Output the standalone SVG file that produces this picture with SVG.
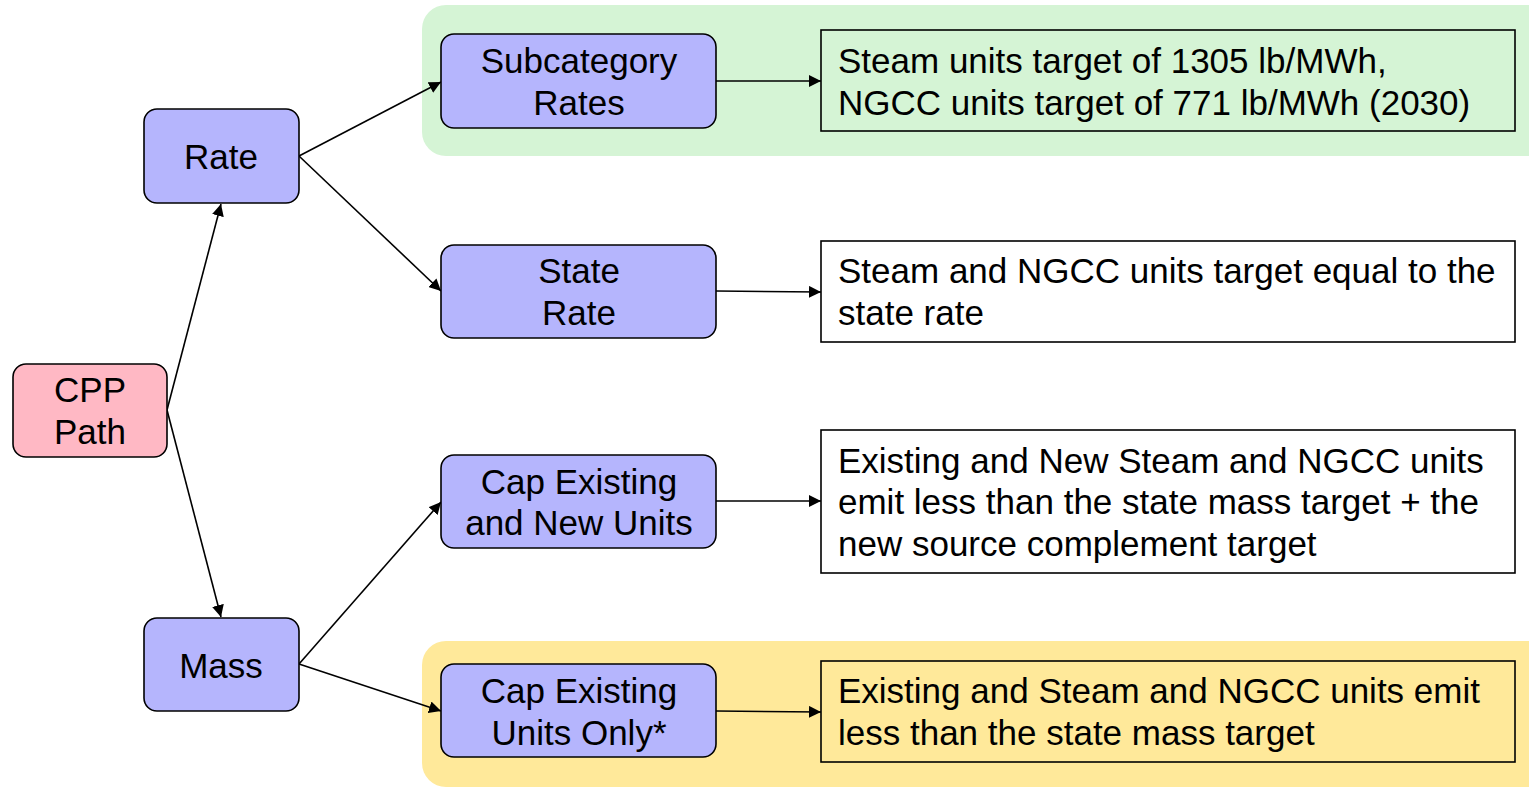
<svg xmlns="http://www.w3.org/2000/svg" width="1529" height="788" viewBox="0 0 1529 788">
<style>
text{font-family:"Liberation Sans",Arial,sans-serif;font-size:35px;fill:#000}
.n{fill:#b5b5fd;stroke:#000;stroke-width:1.6}
.p{fill:#ffb8c4;stroke:#000;stroke-width:1.6}
.b{stroke:#000;stroke-width:1.6}
.c text{text-anchor:middle}
.e line{stroke:#000;stroke-width:1.6;marker-end:url(#ah)}
</style>
<defs>
<marker id="ah" viewBox="0 0 10 10" refX="10" refY="5" markerWidth="12" markerHeight="12" markerUnits="userSpaceOnUse" orient="auto">
<path d="M0,0 L10,5 L0,10 z" fill="#000"/>
</marker>
</defs>
<rect x="422" y="5" width="1131" height="151" rx="24" fill="#d5f4d5"/>
<rect x="422" y="641" width="1131" height="146" rx="24" fill="#ffe99a"/>
<g class="e">
<line x1="167" y1="410" x2="221" y2="204"/>
<line x1="167" y1="410" x2="221" y2="617"/>
<line x1="299" y1="156" x2="441" y2="82"/>
<line x1="299" y1="156" x2="441" y2="291"/>
<line x1="299" y1="664" x2="441" y2="502"/>
<line x1="299" y1="664" x2="441" y2="711"/>
<line x1="716" y1="81" x2="821" y2="81"/>
<line x1="716" y1="291" x2="821" y2="292"/>
<line x1="716" y1="501" x2="821" y2="501"/>
<line x1="716" y1="711" x2="821" y2="712"/>
</g>
<g id="cpp" class="c"><rect class="p" x="13" y="364" width="154" height="93" rx="13"/><text x="90" y="402">CPP</text><text x="90" y="444">Path</text></g>
<g id="rate" class="c"><rect class="n" x="144" y="109" width="155" height="94" rx="13"/><text x="221" y="169">Rate</text></g>
<g id="mass" class="c"><rect class="n" x="144" y="618" width="155" height="93" rx="13"/><text x="221" y="678">Mass</text></g>
<g id="subcat" class="c"><rect class="n" x="441" y="34" width="275" height="94" rx="13"/><text x="579" y="73">Subcategory</text><text x="579" y="115">Rates</text></g>
<g id="staterate" class="c"><rect class="n" x="441" y="245" width="275" height="93" rx="13"/><text x="579" y="283">State</text><text x="579" y="325">Rate</text></g>
<g id="capnew" class="c"><rect class="n" x="441" y="455" width="275" height="93" rx="13"/><text x="579" y="494">Cap Existing</text><text x="579" y="535">and New Units</text></g>
<g id="caponly" class="c"><rect class="n" x="441" y="664" width="275" height="93" rx="13"/><text x="579" y="703">Cap Existing</text><text x="579" y="745">Units Only*</text></g>
<g id="t1"><rect class="b" x="821" y="30" width="694" height="101" fill="none"/><text x="838" y="73">Steam units target of 1305 lb/MWh,</text><text x="838" y="115">NGCC units target of 771 lb/MWh (2030)</text></g>
<g id="t2"><rect class="b" x="821" y="241" width="694" height="101" fill="#fff"/><text x="838" y="283">Steam and NGCC units target equal to the</text><text x="838" y="325">state rate</text></g>
<g id="t3"><rect class="b" x="821" y="430" width="694" height="143" fill="#fff"/><text x="838" y="473">Existing and New Steam and NGCC units</text><text x="838" y="514">emit less than the state mass target + the</text><text x="838" y="556">new source complement target</text></g>
<g id="t4"><rect class="b" x="821" y="661" width="694" height="101" fill="none"/><text x="838" y="703">Existing and Steam and NGCC units emit</text><text x="838" y="745">less than the state mass target</text></g>
</svg>
